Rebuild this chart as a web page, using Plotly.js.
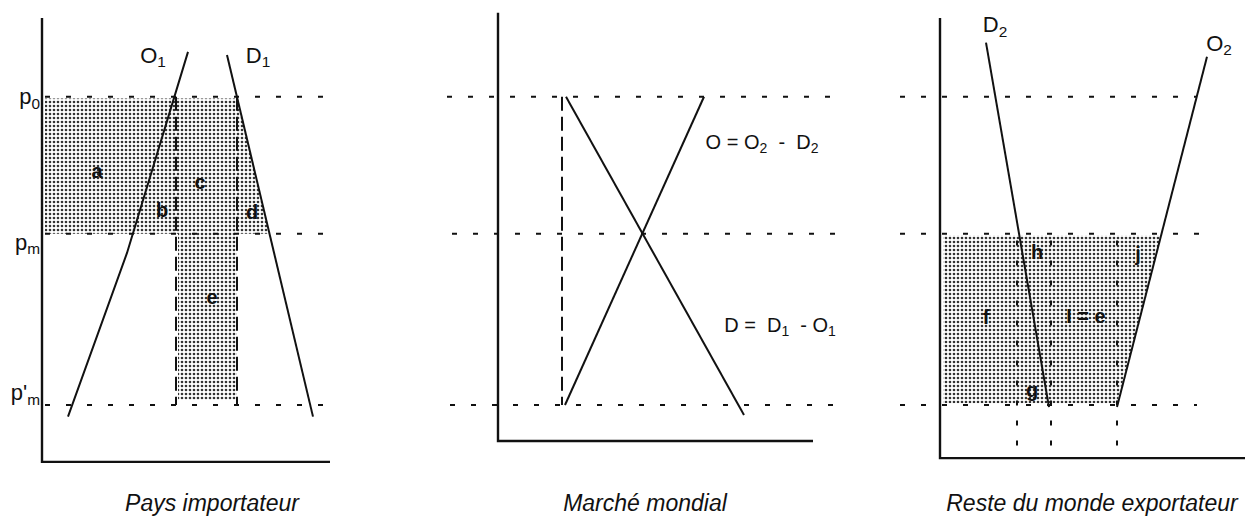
<!DOCTYPE html>
<html>
<head>
<meta charset="utf-8">
<script src="https://cdn.plot.ly/plotly-3.0.1.min.js"></script>
<style>html,body{margin:0;padding:0;background:#fff;}#chart{width:1245px;height:520px;}</style>
</head>
<body>
<div id="chart"></div>
<script>
// ---- price levels (vertical scale, arbitrary units) ----
const P0 = 10, PM = 6, PPM = 1;
const priceLevels = [P0, PM, PPM];
const priceLabels = ['p<sub>0</sub>', 'p<sub>m</sub>', "p'<sub>m</sub>"];
const priceLabelY = [9.95, 5.7, 1.3];

// ---- panel frames (quantity axis origin, top of price axis, bottom, right end) ----
const panelOriginX = [42, 498, 940];
const panelTop = [12.30, 12.45, 12.30];
const panelBottom = [-0.66, -0.05, -0.55];
const panelRight = [330, 813, 1245];
const panelTitles = ['Pays importateur', 'Marché mondial', 'Reste du monde exportateur'];
const panelTitleX = [212, 645, 1092];
const panelTitleY = [-1.92, -1.92, -1.92];

// horizontal dotted guides: start / end for [p0, pm, p'm] in each panel
const guideStart = [[45, 45, 45], [447, 452, 450], [900, 900, 900]];
const guideEnd = [[330, 330, 330], [840, 840, 840], [1197, 1205, 1197]];

// ---- Pays importateur ----
const o1X = [68, 127, 188], o1Y = [0.66, 5.44, 11.31];
const d1X = [227, 313], d1Y = [11.22, 0.66];
const shadeImpX = [45, 237, 269.5, 237, 237, 178, 178, 45];
const shadeImpY = [9.95, 9.95, 6, 6, 1.15, 1.15, 6, 6];
const dashImpX = [176, 237];
const impLabels = ['a', 'b', 'c', 'd', 'e'];
const impLabelX = [97, 162, 200, 252, 212];
const impLabelY = [7.77, 6.64, 7.45, 6.58, 4.10];

// ---- Marché mondial ----
const oMX = [565, 704], oMY = [1, 10];
const dMX = [566, 744], dMY = [10, 0.71];
const dashMX = [562];

// ---- Reste du monde exportateur ----
const d2X = [986, 1049], d2Y = [11.58, 0.94];
const o2X = [1117, 1207], o2Y = [0.94, 11.17];
const shadeExpX = [943, 1161.5, 1117, 943];
const shadeExpY = [5.95, 5.95, 1.05, 1.05];
const dotExpX = [1017, 1051, 1117];
const dotExpTop = 5.8;
const expLabels = ['h', 'j', 'f', 'I = e', 'g'];
const expLabelX = [1037, 1138, 986, 1086, 1032];
const expLabelY = [5.41, 5.35, 3.51, 3.54, 1.38];

// curve labels
const curveLabels = ['O<sub>1</sub>', 'D<sub>1</sub>', 'D<sub>2</sub>', 'O<sub>2</sub>'];
const curveLabelX = [153, 258, 995, 1219];
const curveLabelY = [11.15, 11.15, 12.05, 11.5];
const eqLabels = ['O = O<sub>2</sub>  -  D<sub>2</sub>', 'D =  D<sub>1</sub>  - O<sub>1</sub>'];
const eqLabelX = [762, 780];
const eqLabelY = [8.62, 3.28];

const INK = '#111';
const FONT = 'Liberation Sans';
const traces = [];

// shaded areas
[[shadeImpX, shadeImpY], [shadeExpX, shadeExpY]].forEach(([xs, ys]) => {
  traces.push({
    type: 'scatter', mode: 'lines', x: xs.concat([xs[0]]), y: ys.concat([ys[0]]),
    fill: 'toself', fillcolor: 'rgba(0,0,0,0)',
    fillpattern: {shape: '.', size: 4, solidity: 0.35, fgcolor: '#333', bgcolor: '#fff'},
    line: {width: 0}, hoverinfo: 'skip'
  });
});

// horizontal dotted guides
{
  const gx = [], gy = [];
  for (let p = 0; p < 3; p++) {
    for (let k = 0; k < 3; k++) {
      gx.push(guideStart[p][k], guideEnd[p][k], null);
      gy.push(priceLevels[k], priceLevels[k], null);
    }
  }
  traces.push({type: 'scatter', mode: 'lines', x: gx, y: gy,
    line: {color: INK, width: 2, dash: '5px,16px'}, hoverinfo: 'skip'});
}

// long dashed verticals (importing country + world market)
{
  const vx = [], vy = [];
  dashImpX.concat(dashMX).forEach(x => { vx.push(x, x, null); vy.push(P0, PPM, null); });
  traces.push({type: 'scatter', mode: 'lines', x: vx, y: vy,
    line: {color: INK, width: 2, dash: '14px,6px'}, hoverinfo: 'skip'});
}

// dotted verticals (rest of world)
{
  const vx = [], vy = [];
  dotExpX.forEach(x => { vx.push(x, x, null); vy.push(dotExpTop, panelBottom[2], null); });
  traces.push({type: 'scatter', mode: 'lines', x: vx, y: vy,
    line: {color: INK, width: 2, dash: '5px,15px'}, hoverinfo: 'skip'});
}

// panel axes
{
  const ax = [], ay = [];
  for (let p = 0; p < 3; p++) {
    ax.push(panelOriginX[p], panelOriginX[p], panelRight[p], null);
    ay.push(panelTop[p], panelBottom[p], panelBottom[p], null);
  }
  traces.push({type: 'scatter', mode: 'lines', x: ax, y: ay,
    line: {color: INK, width: 2.4}, hoverinfo: 'skip'});
}

// supply / demand curves
[[o1X, o1Y], [d1X, d1Y], [oMX, oMY], [dMX, dMY], [d2X, d2Y], [o2X, o2Y]].forEach(([xs, ys]) => {
  traces.push({type: 'scatter', mode: 'lines', x: xs, y: ys,
    line: {color: INK, width: 2}, hoverinfo: 'skip'});
});

// text labels as text traces
const textTrace = (texts, xs, ys, font, pos) => traces.push({
  type: 'scatter', mode: 'text', x: xs, y: ys, text: texts,
  textposition: pos || 'middle center',
  textfont: Object.assign({family: FONT, color: INK}, font),
  hoverinfo: 'skip', cliponaxis: false
});

textTrace(priceLabels, priceLabels.map(() => 40), priceLabelY, {size: 22}, 'middle left');
textTrace(impLabels, impLabelX, impLabelY, {size: 20, weight: 'bold'});
textTrace(expLabels, expLabelX, expLabelY, {size: 20, weight: 'bold'});
textTrace(curveLabels, curveLabelX, curveLabelY, {size: 22});
textTrace(eqLabels, eqLabelX, eqLabelY, {size: 20});
textTrace(panelTitles, panelTitleX, panelTitleY, {size: 23, style: 'italic'});

const layout = {
  width: 1245, height: 520,
  margin: {l: 0, r: 0, t: 0, b: 0},
  paper_bgcolor: '#fff', plot_bgcolor: '#fff',
  font: {family: FONT, size: 20, color: INK},
  showlegend: false, hovermode: false,
  xaxis: {range: [0, 1245], visible: false, fixedrange: true},
  yaxis: {range: [-2.3577, 12.8248], visible: false, fixedrange: true}
};

Plotly.newPlot('chart', traces, layout, {displayModeBar: false});
</script>
</body>
</html>
